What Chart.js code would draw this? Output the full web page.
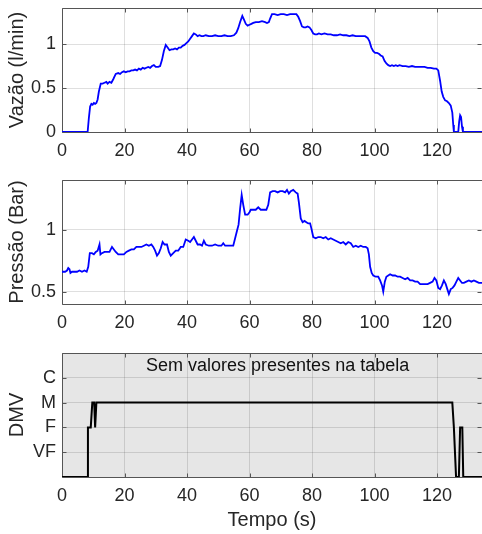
<!DOCTYPE html>
<html>
<head>
<meta charset="utf-8">
<script src="https://cdn.jsdelivr.net/npm/chart.js@4.4.1/dist/chart.umd.min.js"></script>
<style>
html, body { margin: 0; padding: 0; background: #fff; }
#wrap { position: relative; width: 482px; height: 534px; overflow: hidden; }
canvas { position: absolute; left: 0; }
</style>
</head>
<body>
<div id="wrap">
  <canvas id="flowChart" width="482" height="170" style="top:0px"></canvas>
  <canvas id="pressChart" width="482" height="165" style="top:170px"></canvas>
  <canvas id="dmvChart" width="482" height="194" style="top:340px"></canvas>
</div>
<script>
// --- DATA ---
const X_MAX = 134.4;
const X_TICKS = [0, 20, 40, 60, 80, 100, 120];

const flowTime = [0, 8.2, 8.6, 9.0, 9.4, 9.8, 10.2, 10.6, 11.0, 11.4, 11.8, 12.4, 13.0, 13.6, 14.2, 14.6, 15.2, 15.8, 16.4, 17.2,
  18.0, 18.6, 19.2, 19.8, 20.4, 21.0, 21.6, 22.2, 22.8, 23.4, 24.0, 24.6, 25.2, 25.8, 26.4, 27.0, 27.6, 28.2, 28.8, 29.4,
  30.0, 30.8, 31.4, 32.0, 32.6, 33.2, 33.8, 34.4, 35.0, 35.6, 36.2, 36.8, 37.4, 38.0, 38.6, 39.2, 39.8, 40.4, 41.0, 41.6,
  42.2, 42.8, 43.4, 44.0, 44.6, 45.2, 46, 47, 48, 49, 50, 51, 52, 53, 54, 55, 55.8, 56.4, 57.0, 57.7,
  58.2, 58.8, 59.4, 60.0, 60.6, 61.2, 62, 63, 64, 65, 65.6, 66.2, 66.6, 67.2, 68, 69, 70, 71, 72, 73,
  74, 75, 75.6, 76.2, 76.8, 77.4, 78, 78.6, 79.2, 79.8, 80.4, 81.0, 81.6, 82.2, 83, 84, 85, 86, 87, 88,
  89, 90, 91, 92, 93, 94, 95, 96, 97, 97.8, 98.4, 99.0, 99.6, 100.2, 100.8, 101.4, 102.0, 102.6, 103.2, 103.8,
  104.4, 105, 105.6, 106.2, 106.8, 107.4, 108, 109, 110, 111, 112, 113, 114, 115, 116, 117, 118, 119, 119.8, 120.4,
  121.0, 121.5, 122.0, 122.6, 123.2, 123.8, 124.4, 124.9, 125.2, 125.4, 126.8, 127.1, 127.4, 127.7, 128.0, 128.3, 134.4];
const flowValue = [0, 0, 0.16, 0.29, 0.32, 0.31, 0.33, 0.32, 0.33, 0.37, 0.46, 0.55, 0.55, 0.56, 0.57, 0.55, 0.57, 0.56, 0.60, 0.66,
  0.67, 0.66, 0.68, 0.69, 0.68, 0.69, 0.69, 0.70, 0.70, 0.71, 0.70, 0.72, 0.71, 0.73, 0.72, 0.73, 0.74, 0.73, 0.75, 0.76,
  0.74, 0.74, 0.75, 0.82, 0.92, 0.99, 0.96, 0.93, 0.94, 0.94, 0.95, 0.94, 0.96, 0.96, 0.98, 0.99, 1.01, 1.03, 1.06, 1.09,
  1.12, 1.11, 1.09, 1.10, 1.09, 1.09, 1.10, 1.09, 1.09, 1.10, 1.09, 1.09, 1.10, 1.09, 1.09, 1.10, 1.13, 1.18, 1.25, 1.32,
  1.28, 1.23, 1.21, 1.22, 1.23, 1.24, 1.25, 1.25, 1.26, 1.25, 1.24, 1.25, 1.29, 1.34, 1.34, 1.33, 1.34, 1.34, 1.33, 1.34,
  1.34, 1.34, 1.31, 1.26, 1.20, 1.19, 1.19, 1.20, 1.19, 1.16, 1.12, 1.11, 1.11, 1.12, 1.11, 1.12, 1.11, 1.11, 1.10, 1.10,
  1.11, 1.10, 1.10, 1.09, 1.10, 1.09, 1.09, 1.09, 1.09, 1.07, 1.03, 0.96, 0.92, 0.90, 0.90, 0.89, 0.87, 0.86, 0.81, 0.78,
  0.76, 0.75, 0.76, 0.75, 0.76, 0.75, 0.76, 0.75, 0.75, 0.74, 0.75, 0.74, 0.74, 0.74, 0.74, 0.73, 0.73, 0.72, 0.72, 0.70,
  0.58, 0.46, 0.40, 0.36, 0.35, 0.33, 0.30, 0.22, 0.08, 0, 0, 0.12, 0.19, 0.17, 0.06, 0, 0];

const pressTime = [0, 1.0, 1.6, 2.0, 2.4, 2.7, 3.2, 4.0, 4.8, 5.6, 6.4, 7.2, 7.9, 8.4, 8.9, 9.6, 10.2, 10.8, 11.4, 12.0,
  12.3, 12.8, 13.6, 14.4, 15.2, 16.0, 16.6, 17.2, 18.0, 19.0, 19.8, 20.6, 21.4, 22.2, 23.0, 23.8, 24.6, 25.4, 26.2, 27.0,
  27.8, 28.6, 29.2, 29.8, 30.4, 31.0, 31.6, 32.2, 32.8, 33.6, 34.2, 34.8, 35.6, 36.4, 37.2, 38.0, 38.8, 39.6, 40.4, 41.0,
  41.6, 42.2, 42.8, 43.4, 44.2, 44.8, 45.4, 46.0, 47.0, 48.0, 49.0, 50.0, 51.0, 51.6, 52.2, 53.0, 54.0, 54.8, 55.4, 56.0,
  56.5, 57.0, 57.5, 58.0, 58.6, 59.4, 60.0, 60.4, 61.2, 62.0, 62.8, 63.6, 64.4, 65.4, 66.0, 66.6, 67.4, 68.2, 69.0, 69.8,
  70.6, 71.4, 72.0, 72.6, 73.2, 74.0, 74.8, 75.4, 75.8, 76.4, 77.0, 77.6, 78.2, 78.8, 79.4, 79.8, 80.4, 81.2, 82.0, 82.8,
  83.6, 84.4, 85.2, 86.0, 86.8, 87.6, 88.4, 89.2, 90.0, 90.8, 91.6, 92.4, 93.2, 94.0, 94.8, 95.6, 96.4, 97.2, 97.8, 98.2,
  98.6, 99.1, 99.6, 100.4, 101.2, 101.8, 102.4, 102.8, 103.3, 103.8, 104.4, 105.0, 105.8, 106.6, 107.4, 108.2, 109.0, 109.8, 110.6, 111.4,
  112.2, 113.0, 113.8, 114.6, 115.4, 116.2, 117.0, 117.8, 118.6, 119.2, 119.8, 120.4, 121.0, 121.6, 122.2, 122.8, 123.3, 123.8, 124.4, 125.0,
  125.6, 126.2, 126.8, 127.4, 128.0, 128.6, 129.4, 130.2, 131.0, 131.8, 132.6, 133.4, 134.4];
const pressValue = [0.66, 0.66, 0.67, 0.69, 0.68, 0.65, 0.66, 0.66, 0.66, 0.67, 0.66, 0.67, 0.66, 0.70, 0.81, 0.81, 0.80, 0.82, 0.83, 0.88,
  0.80, 0.81, 0.82, 0.82, 0.82, 0.86, 0.84, 0.82, 0.80, 0.80, 0.80, 0.82, 0.83, 0.84, 0.84, 0.86, 0.86, 0.86, 0.87, 0.88,
  0.87, 0.88, 0.86, 0.83, 0.79, 0.81, 0.85, 0.90, 0.88, 0.88, 0.82, 0.79, 0.81, 0.83, 0.83, 0.86, 0.86, 0.92, 0.91, 0.90,
  0.92, 0.94, 0.91, 0.88, 0.88, 0.87, 0.91, 0.88, 0.87, 0.87, 0.88, 0.87, 0.87, 0.89, 0.87, 0.87, 0.87, 0.87, 0.93, 0.99,
  1.04, 1.17, 1.28, 1.20, 1.12, 1.12, 1.14, 1.16, 1.16, 1.16, 1.18, 1.16, 1.16, 1.16, 1.20, 1.30, 1.31, 1.31, 1.30, 1.31,
  1.31, 1.30, 1.32, 1.29, 1.31, 1.32, 1.30, 1.29, 1.22, 1.09, 1.06, 1.07, 1.06, 1.05, 1.05, 1.01, 0.94, 0.93, 0.94, 0.94,
  0.93, 0.94, 0.92, 0.93, 0.92, 0.91, 0.90, 0.89, 0.90, 0.88, 0.90, 0.89, 0.86, 0.87, 0.86, 0.87, 0.86, 0.86, 0.85, 0.80,
  0.70, 0.65, 0.63, 0.62, 0.62, 0.59, 0.55, 0.50, 0.58, 0.62, 0.63, 0.64, 0.63, 0.63, 0.62, 0.62, 0.61, 0.60, 0.61, 0.59,
  0.59, 0.58, 0.58, 0.56, 0.56, 0.56, 0.56, 0.57, 0.58, 0.61, 0.59, 0.53, 0.52, 0.55, 0.59, 0.56, 0.52, 0.48, 0.52, 0.53,
  0.55, 0.58, 0.61, 0.59, 0.57, 0.57, 0.58, 0.59, 0.58, 0.59, 0.58, 0.57, 0.57];

const dmvTime = [0, 8.1, 8.3, 9.2, 9.7, 10.3, 10.6, 11.0, 124.9, 125.4, 126.1, 127.0, 127.4, 128.1, 128.4, 134.4];
const dmvValue = [0, 0, 2, 2, 3, 3, 2, 3, 3, 2, 0, 0, 2, 2, 0, 0];
const dmvLabels = ['', 'VF', 'F', 'M', 'C', ''];

const FONT = "'Liberation Sans', Arial, Helvetica, sans-serif";
const INK = '#262626';
const GRID = 'rgba(38,38,38,0.15)';

// --- HELPERS ---
const pts = (xs, ys) => xs.map((x, i) => ({ x, y: ys[i] }));

// matlab style box: grey fill, frame and inward ticks
const matlabBox = {
  id: 'matlabBox',
  beforeDraw(chart, args, opts) {
    if (!opts.background) return;
    const { ctx, chartArea: a } = chart;
    ctx.save();
    ctx.fillStyle = opts.background;
    ctx.fillRect(a.left, a.top, a.right - a.left, a.bottom - a.top);
    ctx.restore();
  },
  beforeDatasetsDraw(chart) {
    const { ctx, chartArea: a, scales } = chart;
    const L = Math.round(a.left) + 0.5, R = Math.round(a.right) - 0.5;
    const T = Math.round(a.top) + 0.5, B = Math.round(a.bottom) + 0.5;
    ctx.save();
    ctx.strokeStyle = '#555';
    ctx.lineWidth = 1;
    ctx.beginPath();
    ctx.moveTo(R + 2, T); ctx.lineTo(L, T); ctx.lineTo(L, B); ctx.lineTo(R + 2, B);
    scales.x.ticks.forEach(t => {
      const px = Math.round(scales.x.getPixelForValue(t.value)) + 0.5;
      ctx.moveTo(px, B); ctx.lineTo(px, B - 4);
      ctx.moveTo(px, T); ctx.lineTo(px, T + 4);
    });
    scales.y.ticks.forEach(t => {
      if (t.label === '') return;
      const py = Math.round(scales.y.getPixelForValue(t.value)) + 0.5;
      ctx.moveTo(L, py); ctx.lineTo(L + 4, py);
      ctx.moveTo(R, py); ctx.lineTo(R - 4, py);
    });
    ctx.stroke();
    ctx.restore();
  },
  afterDraw(chart, args, opts) {
    if (!opts.text) return;
    const { ctx, chartArea: a, scales } = chart;
    ctx.save();
    ctx.font = '18px ' + FONT;
    ctx.fillStyle = '#111';
    ctx.textAlign = 'center';
    ctx.textBaseline = 'middle';
    ctx.fillText(opts.text, scales.x.getPixelForValue(opts.textX), a.top + opts.textDy);
    ctx.restore();
  }
};

function xScale(height, title) {
  return {
    type: 'linear', min: 0, max: X_MAX,
    afterBuildTicks: s => { s.ticks = X_TICKS.map(v => ({ value: v })); },
    afterFit: s => { s.height = height; s.paddingLeft = 0; s.paddingRight = 0; },
    grid: { color: GRID, drawTicks: false },
    border: { display: false },
    ticks: { font: { family: FONT, size: 18 }, color: INK, padding: 8, maxRotation: 0, autoSkip: false, callback: v => String(v) },
    title: title
      ? { display: true, text: title, font: { family: FONT, size: 20 }, color: INK, padding: { top: 0, bottom: 2 } }
      : { display: false }
  };
}

function yScale(min, max, tickValues, label, fmt) {
  return {
    min, max,
    afterBuildTicks: s => { s.ticks = tickValues.map(v => ({ value: v })); },
    afterFit: s => { s.width = 62; s.paddingTop = 0; s.paddingBottom = 0; },
    grid: { color: GRID, drawTicks: false },
    border: { display: false },
    ticks: { font: { family: FONT, size: 18 }, color: INK, padding: 6, autoSkip: false, callback: fmt || (v => String(+v.toFixed(2))) },
    title: { display: true, text: label, font: { family: FONT, size: 20 }, color: INK, padding: { top: 5, bottom: 0 } }
  };
}

function lineChart(canvasId, data, color, width, yOpts, xOpts, topPad, boxOpts) {
  return new Chart(document.getElementById(canvasId), {
    type: 'line',
    data: { datasets: [{ data, borderColor: color, borderWidth: width, pointRadius: 0, tension: 0, fill: false }] },
    options: {
      responsive: false, animation: false,
      layout: { padding: { top: topPad, left: 0, right: 0, bottom: 0 } },
      plugins: { legend: { display: false }, tooltip: { enabled: false }, matlabBox: boxOpts || {} },
      scales: { x: xOpts, y: yOpts }
    },
    plugins: [matlabBox]
  });
}

// --- CHARTS ---
lineChart('flowChart', pts(flowTime, flowValue), '#0000ff', 1.8,
  yScale(0, 1.41, [0, 0.5, 1], 'Vazão (l/min)'), xScale(38), 8);

lineChart('pressChart', pts(pressTime, pressValue), '#0000ff', 1.8,
  yScale(0.4, 1.4, [0.5, 1], 'Pressão (Bar)'), xScale(31), 10);

lineChart('dmvChart', pts(dmvTime, dmvValue), '#000000', 2,
  yScale(0, 5, [0, 1, 2, 3, 4, 5], 'DMV', v => dmvLabels[v]), xScale(57, 'Tempo (s)'), 13,
  { background: '#e6e6e6', text: 'Sem valores presentes na tabela', textX: 69, textDy: 13 });
</script>
</body>
</html>
